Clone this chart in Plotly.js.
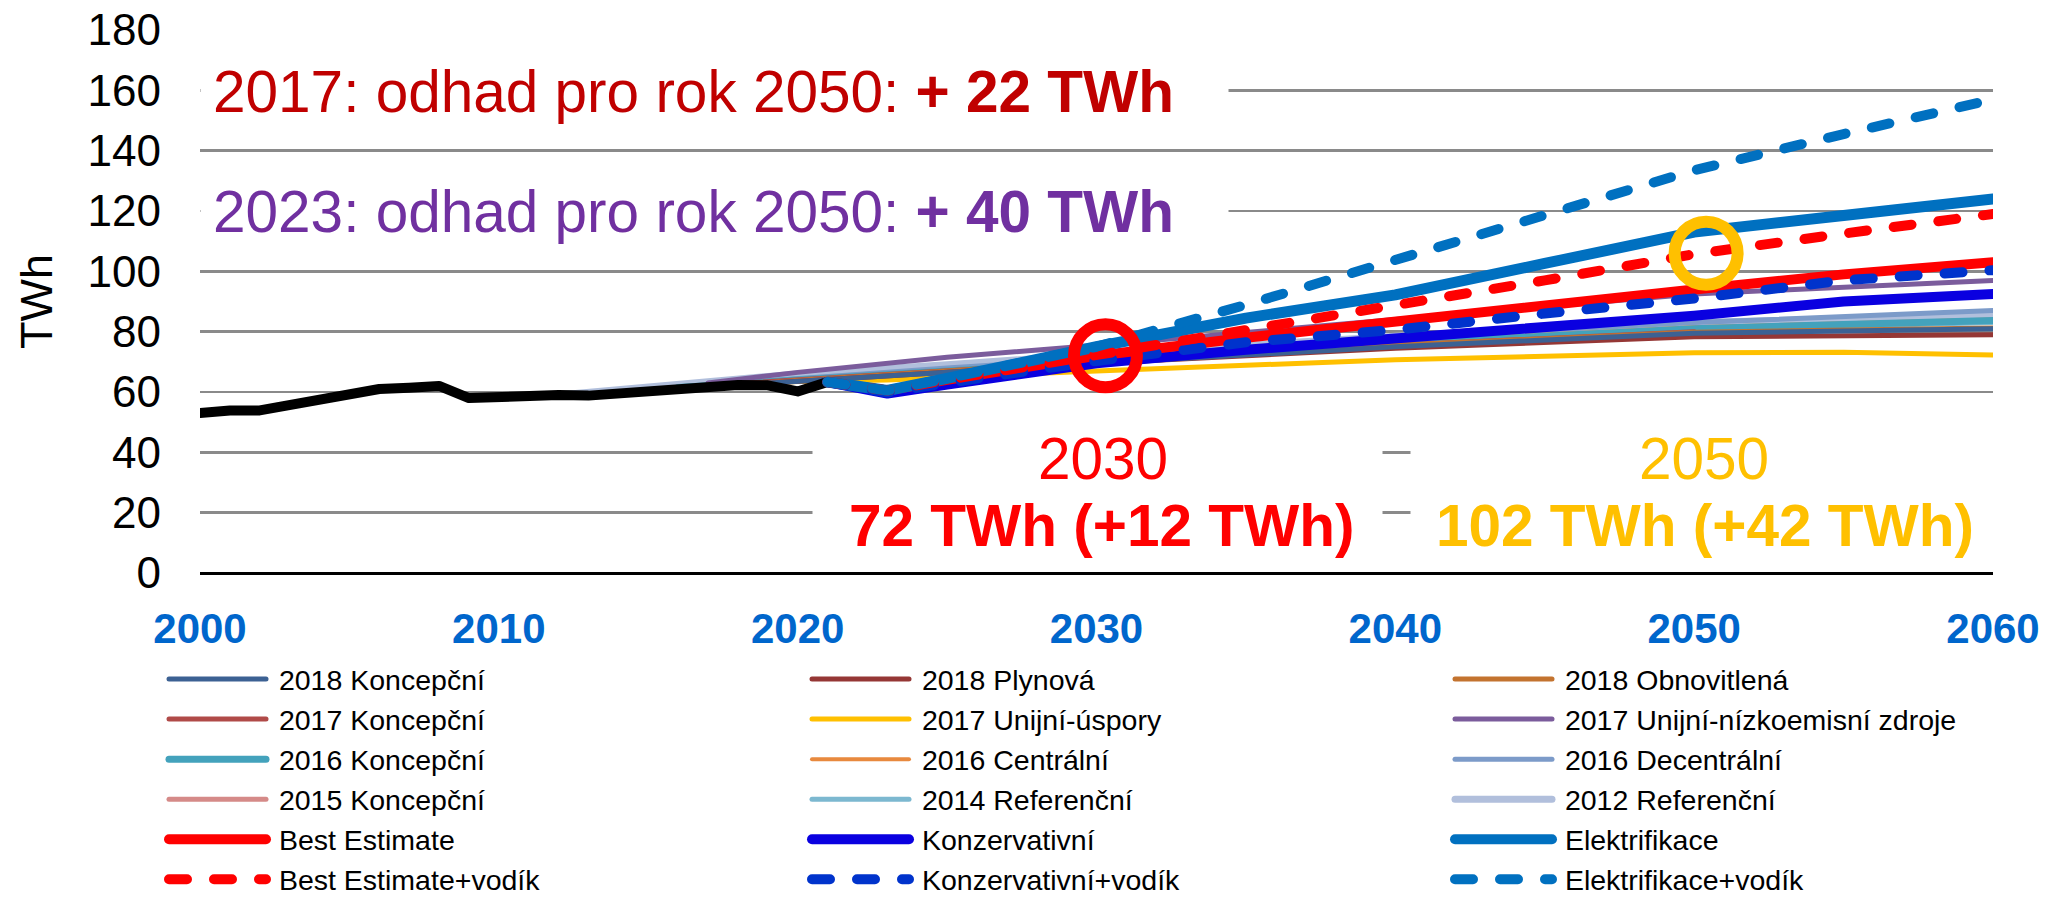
<!DOCTYPE html>
<html><head><meta charset="utf-8">
<script src="https://cdn.plot.ly/plotly-3.0.1.min.js"></script>
<style>
html,body{margin:0;padding:0;background:#fff;}
#chart{width:2047px;height:899px;}
path.js-line{stroke-linecap:round;stroke-linejoin:round;}
</style></head><body><div id="chart"></div><script>
const FONT = 'Liberation Sans, Arial, Helvetica, sans-serif';

// ---- data ----
const histYears = [2000,2001,2002,2003,2004,2005,2006,2007,2008,2009,2010,2011,2012,2013,2014,2015,2016,2017,2018,2019,2020,2021];
const histVals  = [53,53.9,53.9,55.5,57.5,59,61,61.4,62,58,58.6,59,59,58.8,59.6,60.6,61.5,62.2,62.3,62.2,60.2,63.3];

const yrs18 = [2018,2020,2025,2030,2040,2050,2060];
const k2018 = [62.3,63.5,66.5,69.5,75,79.5,81];
const p2018 = [62.3,63.5,66.5,69.5,74.5,78.3,79];
const o2018 = [62.3,63.8,67,70,75.5,79.8,81.2];

const yrs17k = [2017,2020,2025,2030,2040,2050];
const k2017  = [62.2,64,67,70,75.5,80];
const yrs17u = [2017,2020,2023,2030,2040,2050,2055,2060];
const u2017  = [62.2,63.5,64,67,70.7,73,73.2,72.3];
const yrs17n = [2017,2020,2025,2030,2040,2050,2060];
const n2017  = [63,66.5,71.5,75.5,84,92.5,97];

const yrs16 = [2016,2020,2025,2030,2040,2050,2060];
const k2016 = [61.5,64,67,70,76,81,83.7];
const c2016 = [61.5,64,67.3,70.5,76.5,81.5,84];
const d2016 = [61.5,64.5,68,71,78,83,87];

const yrs15 = [2015,2020,2025,2030,2040,2050];
const k2015 = [60.6,64,67.3,70.5,76.5,81];
const yrs14 = [2014,2020,2025,2030,2040,2050,2060];
const r2014 = [59.6,64.5,67.5,70.5,76,80.5,83];
const yrs12 = [2012,2020,2025,2030,2040,2050,2060];
const r2012 = [59,66,69,72.5,78.5,83,85.5];

const yrsNew = [2021,2023,2025,2030,2035,2040,2045,2050,2055,2060];
const bestEst  = [63.3,60.5,64,72,78,83.6,89,94,99,103];
const bestEstH = [63.3,60.5,64,72.5,81,88.8,97,105.7,112.5,119];
const konz     = [63.3,59.5,62.5,69.5,74,77.7,82,85.3,90,92.5];
const konzH    = [63.3,59.8,63,70.3,76.5,80.6,86,91,97,100.4];
const elek     = [63.3,60.5,64.5,75,84.5,92.2,102.6,113,118.5,124];
const elekH    = [63.3,60.5,64.5,75,88.9,104,119,133.5,145.5,157];

const highlightYears = [2030.3, 2050.4];
const highlightVals  = [72, 106];

const xTicks = [2000,2010,2020,2030,2040,2050,2060];
const yTicks = [0,20,40,60,80,100,120,140,160,180];

// ---- traces ----
const NB = '\u00A0';
function ln(name, x, y, color, width, dash, rank, show) {
  return {
    type: 'scatter', mode: 'lines', name: NB + name, x: x, y: y,
    line: {color: color, width: width, dash: dash || 'solid'},
    legendrank: rank, showlegend: show !== false, hoverinfo: 'skip'
  };
}
const DASH = '18px,27px';
const traces = [
  ln('2012 Referenční', yrs12, r2012, '#B1BFDC', 7, null, 12),
  ln('2014 Referenční', yrs14, r2014, '#7CB8D0', 5, null, 11),
  ln('2015 Koncepční', yrs15, k2015, '#D58A88', 5, null, 10),
  ln('2016 Decentrální', yrs16, d2016, '#7C9BC9', 5, null, 9),
  ln('2016 Centrální', yrs16, c2016, '#E8893E', 4, null, 8),
  ln('2016 Koncepční', yrs16, k2016, '#43A2BC', 7, null, 7),
  ln('2017 Unijní-nízkoemisní zdroje', yrs17n, n2017, '#7B5C9C', 5, null, 6),
  ln('2017 Unijní-úspory', yrs17u, u2017, '#FFC000', 5, null, 5),
  ln('2017 Koncepční', yrs17k, k2017, '#B04A48', 5, null, 4),
  ln('2018 Obnovitlená', yrs18, o2018, '#C3732F', 5, null, 3),
  ln('2018 Plynová', yrs18, p2018, '#953735', 5, null, 2),
  ln('2018 Koncepční', yrs18, k2018, '#3C6193', 5, null, 1),
  ln('Historie', histYears, histVals, '#000000', 10, null, 100, false),
  ln('Konzervativní', yrsNew, konz, '#0A00E0', 10, null, 14),
  ln('Best Estimate', yrsNew, bestEst, '#FF0000', 10, null, 13),
  ln('Elektrifikace', yrsNew, elek, '#0070C0', 11, null, 15),
  ln('Konzervativní+vodík', yrsNew, konzH, '#0033CC', 10, DASH, 17),
  ln('Best Estimate+vodík', yrsNew, bestEstH, '#FF0000', 10, DASH, 16),
  ln('Elektrifikace+vodík', yrsNew, elekH, '#0070C0', 10, DASH, 18),
  {
    type: 'scatter', mode: 'markers', x: highlightYears, y: highlightVals,
    showlegend: false, hoverinfo: 'skip',
    marker: {symbol: 'circle-open', size: 63, color: ['#FF0000', '#FFC000'], line: {width: 12}}
  }
];

// ---- annotations ----
const bigFont = 58.5;
const annotations = [
  {xref: 'paper', yref: 'paper', x: 0, y: 0.888, xanchor: 'left', yanchor: 'middle',
   text: '2017: odhad pro rok 2050: <b>+ 22 TWh</b>', align: 'left', width: 1003, height: 80,
   borderpad: 12, bgcolor: '#FFFFFF', showarrow: false,
   font: {family: FONT, size: bigFont, color: '#C00000'}},
  {xref: 'paper', yref: 'paper', x: 0, y: 0.666, xanchor: 'left', yanchor: 'middle',
   text: '2023: odhad pro rok 2050: <b>+ 40 TWh</b>', align: 'left', width: 1003, height: 80,
   borderpad: 12, bgcolor: '#FFFFFF', showarrow: false,
   font: {family: FONT, size: bigFont, color: '#7030A0'}},
  // white boxes behind the 2030 / 2050 labels
  {xref: 'paper', yref: 'paper', x: (812-200)/1793, y: (573-410)/543, xanchor: 'left', yanchor: 'top',
   text: ' ', width: 569, height: 145, borderpad: 0, bgcolor: '#FFFFFF', showarrow: false,
   font: {family: FONT, size: 10}},
  {xref: 'paper', yref: 'paper', x: (1410-200)/1793, y: (573-410)/543, xanchor: 'left', yanchor: 'top',
   text: ' ', width: 600, height: 145, borderpad: 0, bgcolor: '#FFFFFF', showarrow: false,
   font: {family: FONT, size: 10}},
  {xref: 'paper', yref: 'paper', x: (1103-200)/1793, y: (573-458)/543, xanchor: 'center', yanchor: 'middle',
   text: '2030', showarrow: false, font: {family: FONT, size: bigFont, color: '#FF0000'}},
  {xref: 'paper', yref: 'paper', x: (1101-200)/1793, y: (573-525)/543, xanchor: 'center', yanchor: 'middle',
   text: '<b>72 TWh (+12 TWh)</b>', showarrow: false, font: {family: FONT, size: bigFont, color: '#FF0000'}},
  {xref: 'paper', yref: 'paper', x: (1704-200)/1793, y: (573-458)/543, xanchor: 'center', yanchor: 'middle',
   text: '2050', showarrow: false, font: {family: FONT, size: bigFont, color: '#FFC000'}},
  {xref: 'paper', yref: 'paper', x: (1705-200)/1793, y: (573-525)/543, xanchor: 'center', yanchor: 'middle',
   text: '<b>102 TWh (+42 TWh)</b>', showarrow: false, font: {family: FONT, size: bigFont, color: '#FFC000'}}
];

const layout = {
  width: 2047, height: 899,
  margin: {l: 200, r: 54, t: 30, b: 326, autoexpand: false},
  paper_bgcolor: '#FFFFFF', plot_bgcolor: '#FFFFFF',
  font: {family: FONT, color: '#000000'},
  showlegend: true,
  xaxis: {
    range: [2000, 2060], tickvals: xTicks, ticktext: xTicks.map(String),
    showgrid: false, zeroline: false, showline: false, ticks: '',
    tickfont: {family: FONT, size: 42, color: '#0066CC', weight: 'bold'},
    ticklabelstandoff: 27, fixedrange: true
  },
  yaxis: {
    range: [0, 180], tickvals: yTicks, ticktext: yTicks.map(String),
    showgrid: true, gridcolor: '#8A8A8A', gridwidth: 2.5,
    zeroline: true, zerolinecolor: '#000000', zerolinewidth: 3,
    showline: false, ticks: '',
    tickfont: {family: FONT, size: 44, color: '#000000'},
    ticklabelstandoff: 38,
    title: {text: 'TWh', font: {family: FONT, size: 45, color: '#000000'}, standoff: 20},
    fixedrange: true
  },
  legend: {
    orientation: 'h', xref: 'paper', yref: 'paper',
    x: (164-200)/1793, y: (573-654)/543, xanchor: 'left', yanchor: 'top',
    itemwidth: 97, entrywidth: 531, entrywidthmode: 'pixels',
    font: {family: FONT, size: 28.5, color: '#000000'},
    bgcolor: 'rgba(0,0,0,0)', borderwidth: 0, traceorder: 'normal',
    itemclick: false, itemdoubleclick: false
  },
  annotations: annotations
};

Plotly.newPlot('chart', traces, layout, {displayModeBar: false, staticPlot: true});
</script></body></html>
